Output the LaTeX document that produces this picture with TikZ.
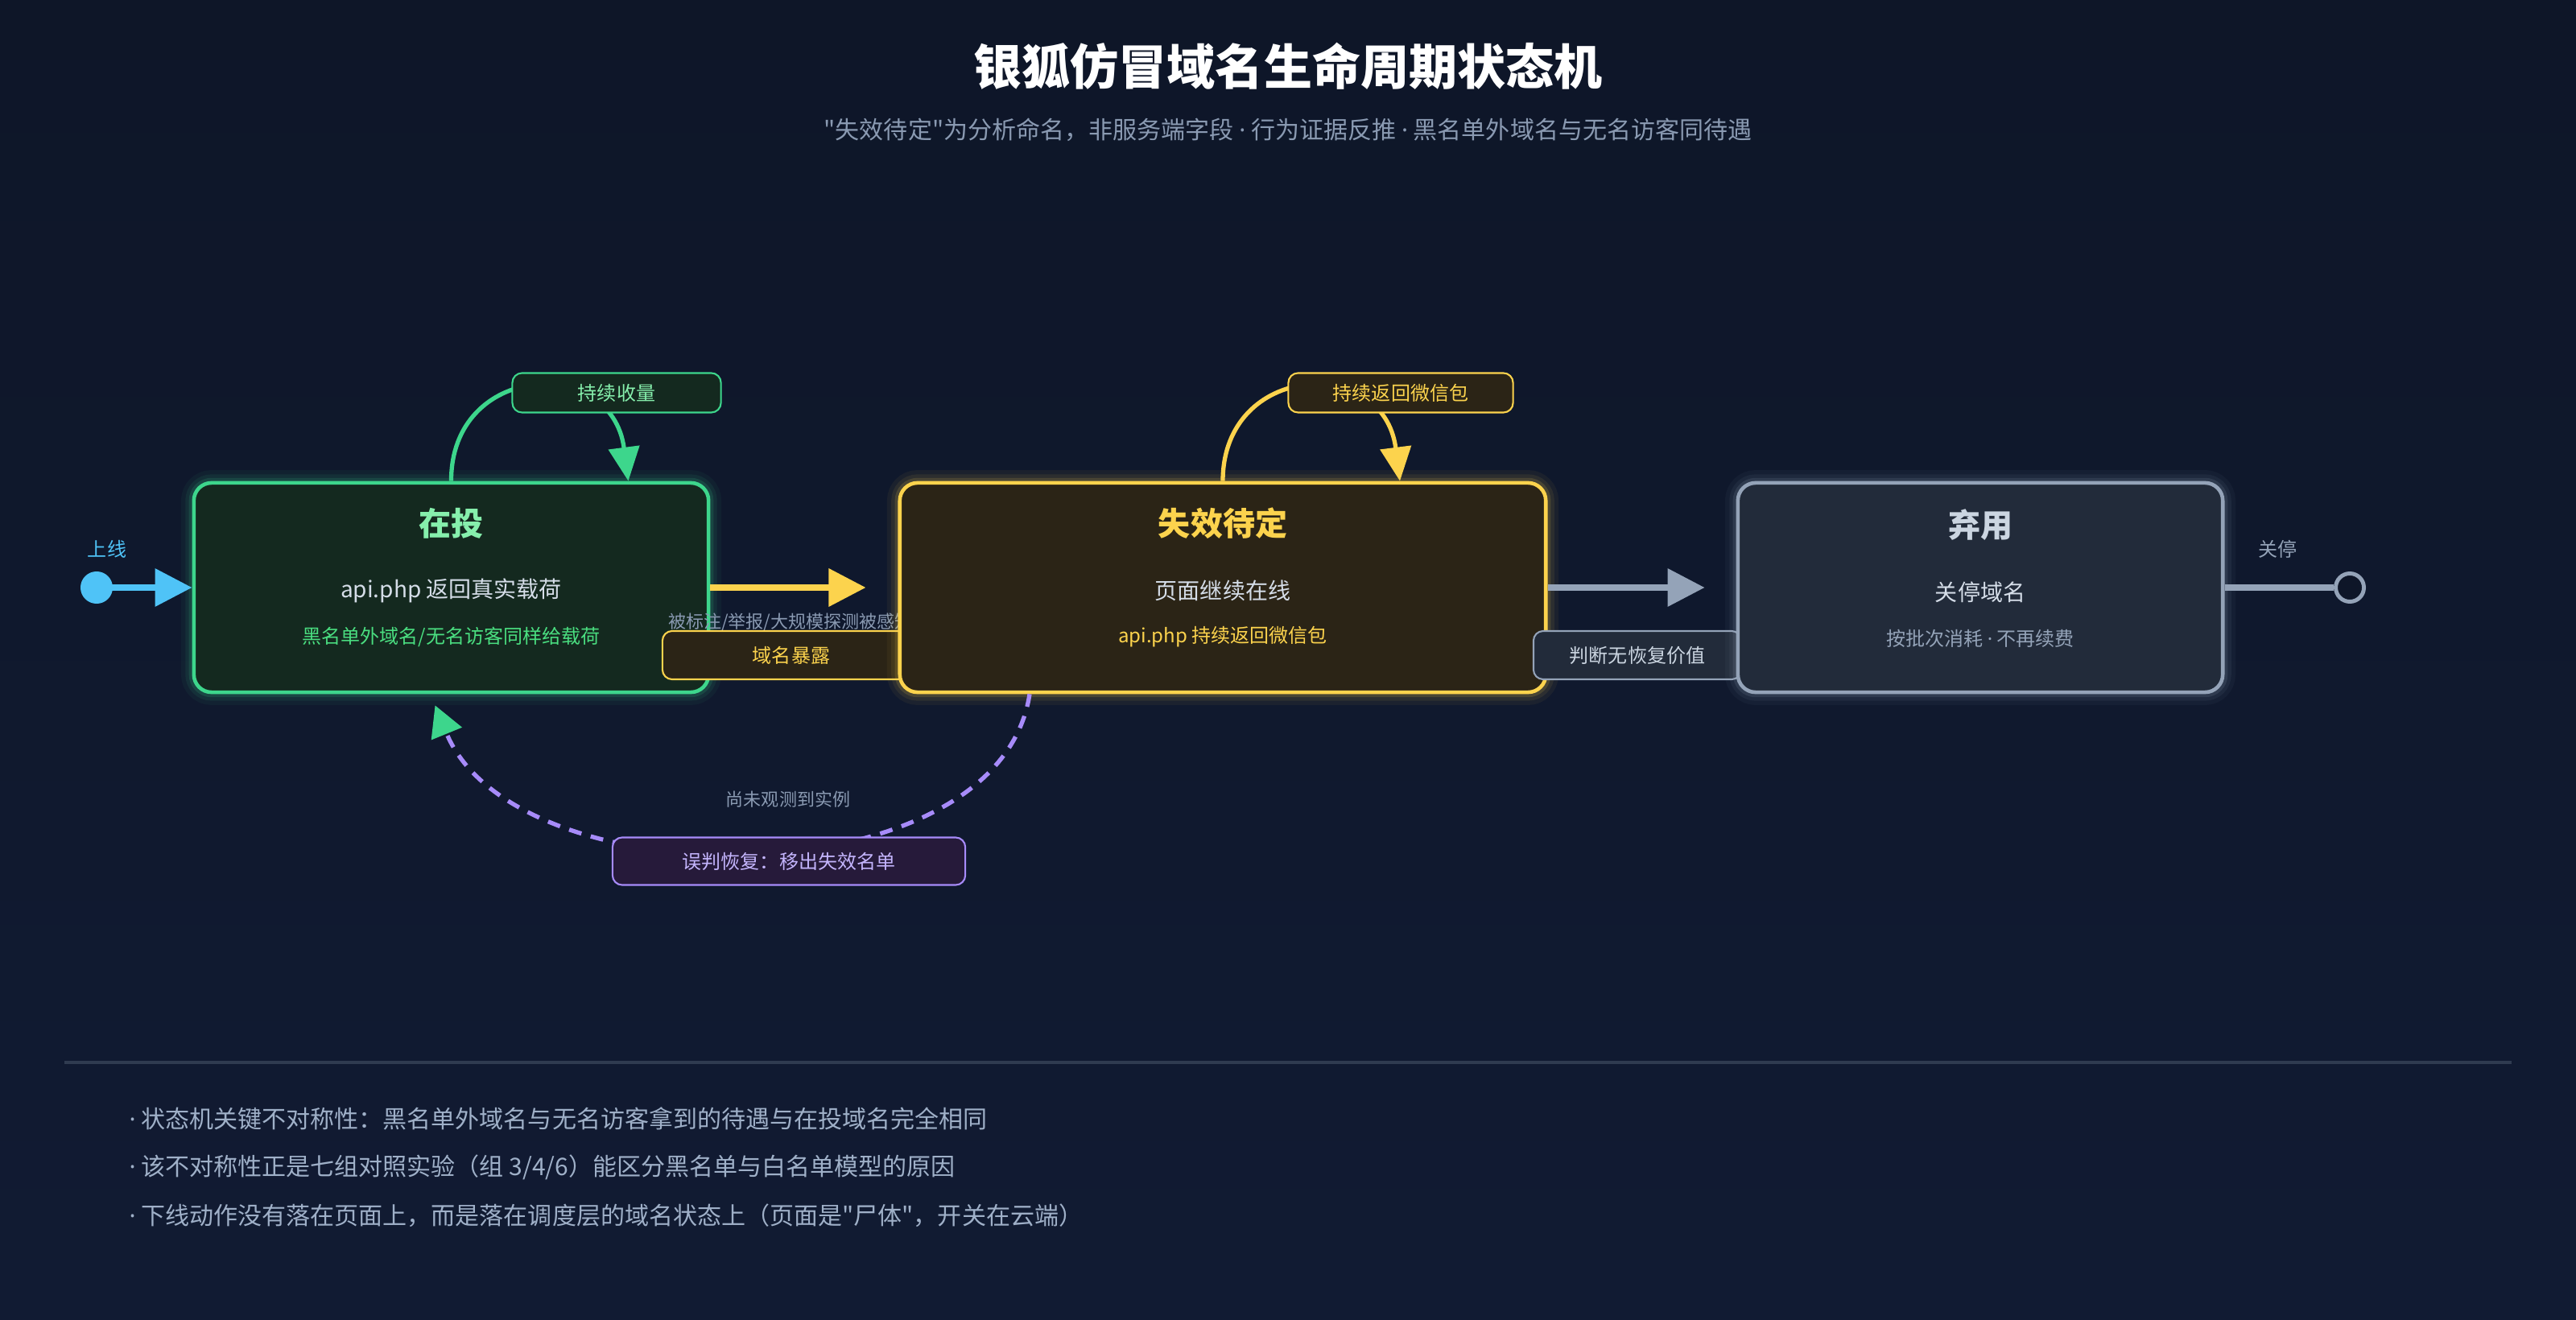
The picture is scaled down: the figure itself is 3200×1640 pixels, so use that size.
\documentclass[tikz,border=0pt]{standalone}
\usepackage{fontspec}
\setmainfont{Noto Sans CJK SC}[Ligatures=TeXOff]
\newfontfamily\latinf{Noto Sans}[Ligatures=TeXOff]
\newcommand\mdot{{\latinf ·}}
\usetikzlibrary{arrows.meta,calc}
\definecolor{bgA}{HTML}{0E1628}
\definecolor{bgB}{HTML}{111B33}
\definecolor{gBorder}{HTML}{3DD68C}
\definecolor{gFill}{HTML}{14291F}
\definecolor{gTitle}{HTML}{86EFAC}
\definecolor{gText}{HTML}{4ADE80}
\definecolor{yBorder}{HTML}{FCD34D}
\definecolor{yFill}{HTML}{2B2416}
\definecolor{sBorder}{HTML}{94A3B8}
\definecolor{sFill}{HTML}{222B3A}
\definecolor{sTitle}{HTML}{CBD5E1}
\definecolor{lightText}{HTML}{D5DDE8}
\definecolor{mutedText}{HTML}{8A9AB2}
\definecolor{blueC}{HTML}{4FC3F7}
\definecolor{purpleC}{HTML}{A78BFA}
\definecolor{pFill}{HTML}{261A3A}
\definecolor{pText}{HTML}{C4B5FD}
\definecolor{sepC}{HTML}{2F3B50}
\definecolor{bulletC}{HTML}{9FB0C8}
\begin{document}
\begin{tikzpicture}[x=0.01cm,y=-0.01cm,
  fs/.style={font=\fontsize{#1}{#1}\selectfont},
  txt/.style={inner sep=0pt, anchor=center},
  glow/.style={preaction={draw=#1,line width=9pt,opacity=0.05},
               preaction={draw=#1,line width=6pt,opacity=0.08},
               preaction={draw=#1,line width=3.5pt,opacity=0.14}},
  statebox/.style={draw=#1, line width=1.3pt, rounded corners=0.22cm, minimum height=2.6cm, inner sep=0pt, glow=#1},
  lblbox/.style={draw=#1, line width=0.6pt, rounded corners=0.12cm, inner sep=0pt},
  flow/.style={line width=2pt, -{Triangle[length=0.46cm,width=0.46cm]}},
  loopline/.style={line width=1.5pt, -{Triangle[length=0.42cm,width=0.38cm]}},
]
\fill[top color=bgA, bottom color=bgB] (0,0) rectangle (3200,1640);
\useasboundingbox (0,0) rectangle (3200,1640);

% header
\node[txt, fs=17.07pt, text=white] (title) at (1600,82) {\bfseries 银狐仿冒域名生命周期状态机};
\node[txt, fs=8.54pt, text=mutedText] (subtitle) at (1600,161) {"失效待定"为分析命名，非服务端字段 \mdot{} 行为证据反推 \mdot{} 黑名单外域名与无名访客同待遇};

% footer
\draw[sepC, line width=0.9pt] (80,1320) -- (3120,1320);
\node[txt, anchor=west, fs=8.54pt, text=bulletC] (b1) at (160,1390) {\mdot{} 状态机关键不对称性：黑名单外域名与无名访客拿到的待遇与在投域名完全相同};
\node[txt, anchor=west, fs=8.54pt, text=bulletC] (b2) at (160,1450) {\mdot{} 该不对称性正是七组对照实验（组 3/4/6）能区分黑名单与白名单模型的原因};
\node[txt, anchor=west, fs=8.54pt, text=bulletC] (b3) at (160,1510) {\mdot{} 下线动作没有落在页面上，而是落在调度层的域名状态上（页面是"尸体"，开关在云端）};

% state: 在投
\node[statebox=gBorder, fill=gFill, minimum width=6.39cm] (G) at (560.5,730) {};
\node[txt, fs=11.38pt, text=gTitle] (Gt) at (560.5,650) {\bfseries 在投};
\node[txt, fs=7.97pt, text=lightText] (Gb1) at (560.5,734) {api.php 返回真实载荷};
\node[txt, fs=6.83pt, text=gText] (Gb2) at (560.5,791) {黑名单外域名/无名访客同样给载荷};

% label of G -> Y
\node[txt, fs=6.26pt, text=mutedText] (e1t) at (982,773) {被标注/举报/大规模探测被感知};
\node[lblbox=yBorder, fill=yFill, minimum width=3.2cm, minimum height=0.6cm, fs=6.83pt, text=yBorder] (e1) at (983,814) {域名暴露};

% state: 失效待定
\node[statebox=yBorder, fill=yFill, minimum width=8.02cm] (Y) at (1519,730) {};
\node[txt, fs=11.38pt, text=yBorder] (Yt) at (1519,650) {\bfseries 失效待定};
\node[txt, fs=7.97pt, text=lightText] (Yb1) at (1519,734) {页面继续在线};
\node[txt, fs=6.83pt, text=yBorder] (Yb2) at (1519,791) {api.php 持续返回微信包};

% label of Y -> S
\node[lblbox=sBorder, fill=sFill, minimum width=2.58cm, minimum height=0.6cm, fs=6.83pt, text=sTitle] (e2) at (2034,814) {判断无恢复价值};

% state: 弃用
\node[statebox=sBorder, fill=sFill, minimum width=6.02cm] (S) at (2460,730) {};
\node[txt, fs=11.38pt, text=sTitle] (St) at (2460,652) {\bfseries 弃用};
\node[txt, fs=7.97pt, text=lightText] (Sb1) at (2460,736) {关停域名};
\node[txt, fs=6.83pt, text=sBorder] (Sb2) at (2460,793) {按批次消耗 \mdot{} 不再续费};

% initial and final
\node[circle, fill=blueC, minimum size=0.4cm, inner sep=0pt] (init) at (120,730) {};
\node[txt, fs=6.83pt, text=blueC] (initL) at (133,682) {上线};
\draw[flow, blueC] (init.center) -- (G.west);
\node[circle, draw=sBorder, line width=1.4pt, fill=bgA, minimum size=0.35cm, inner sep=0pt] (fin) at (2919,730) {};
\node[txt, fs=6.83pt, text=sBorder] (finL) at (2829,682) {关停};
\draw[line width=2pt, sBorder] (S.east) -- (fin.west);

% transitions
\draw[flow, yBorder, shorten >=0.4cm] (G.east) -- (Y.west);
\draw[flow, sBorder, shorten >=0.39cm] (Y.east) -- (S.west);

% self loops
\draw[loopline, gBorder] (G.north) .. controls (560,450) and (760,440) .. ($(G.north)+(220,0)$);
\node[lblbox=gBorder, fill=gFill, minimum width=2.59cm, minimum height=0.49cm, fs=6.83pt, text=gTitle] (l1) at (766,488) {持续收量};
\draw[loopline, yBorder] (Y.north) .. controls (1519,450) and (1719,440) .. ($(Y.north)+(220,0)$);
\node[lblbox=yBorder, fill=yFill, minimum width=2.79cm, minimum height=0.49cm, fs=6.83pt, text=yBorder] (l2) at (1740,488) {持续返回微信包};

% recovery
\draw[purpleC, line width=1.5pt, dash pattern=on 0.16cm off 0.12cm, -{Triangle[length=0.38cm,width=0.40cm,color=gBorder]}] ($(Y.south)+(-240,0)$) .. controls (1240,1120) and (640,1120) .. ($(G.south)+(-20,14)$);
\node[txt, fs=6.26pt, text=mutedText] (e3t) at (979,993) {尚未观测到实例};
\node[lblbox=purpleC, fill=pFill, minimum width=4.38cm, minimum height=0.59cm, fs=6.83pt, text=pText] (e3) at (980,1070) {误判恢复：移出失效名单};
\end{tikzpicture}
\end{document}
